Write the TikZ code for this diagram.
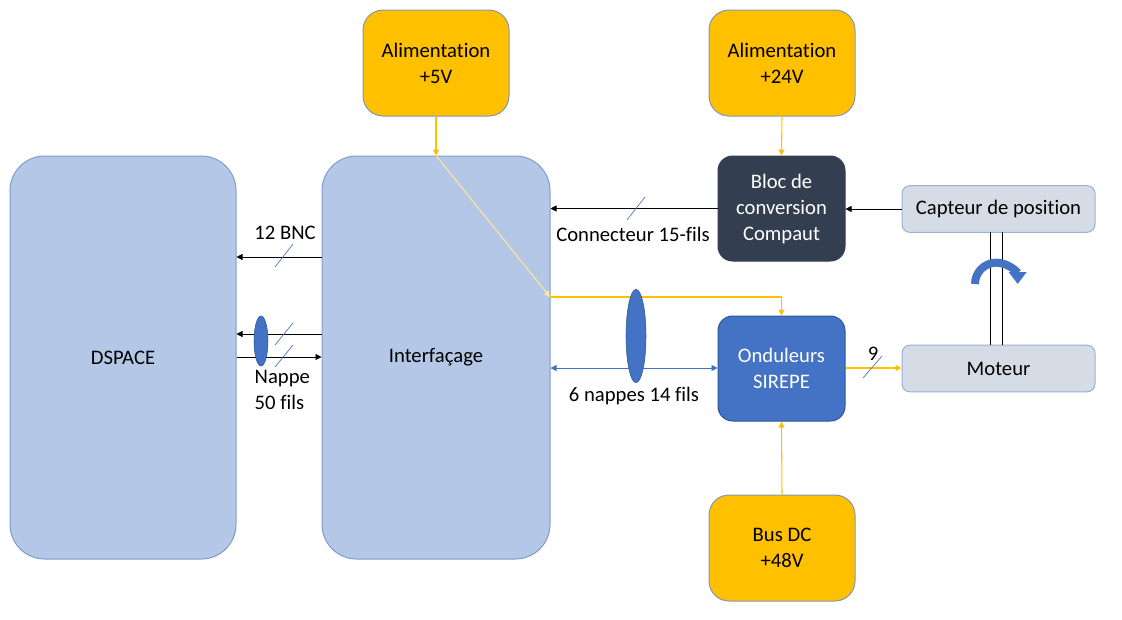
\documentclass[tikz,border=0pt]{standalone}
\usepackage{fontspec}
\setmainfont{Carlito}[Ligatures={NoCommon}]
\usepackage{tikz}
\usetikzlibrary{shapes.geometric, arrows.meta}

\definecolor{bleuclair}{HTML}{B4C7E7}
\definecolor{bordbleu}{HTML}{7F9CCF}
\definecolor{jaune}{HTML}{FFC000}
\definecolor{jaunepale}{HTML}{FFE699}
\definecolor{bordgris}{HTML}{8497B0}
\definecolor{ardoise}{HTML}{333F50}
\definecolor{bleu}{HTML}{4472C4}
\definecolor{bleufonce}{HTML}{2F5597}
\definecolor{grisbleu}{HTML}{D6DCE5}

\begin{document}
\begin{tikzpicture}[x=0.75pt, y=-0.75pt,
    font=\fontsize{15.5}{19.5}\selectfont,
    bloc/.style={draw=bordbleu, line width=0.75pt, align=center, inner sep=0pt},
    grand/.style={bloc, fill=bleuclair, minimum width=169.5pt, minimum height=302.25pt, rounded corners=26pt},
    alim/.style={bloc, fill=jaune, draw=bordgris, minimum width=109.5pt, minimum height=79.5pt, rounded corners=15pt},
    carre/.style={bloc, text=white, minimum width=95.25pt, minimum height=78.75pt, rounded corners=11pt},
    plat/.style={bloc, fill=grisbleu, draw=bordbleu!80, minimum width=144.75pt, minimum height=35pt, rounded corners=6pt},
    nappe/.style={ellipse, draw=bleufonce, fill=bleu, inner sep=0pt},
    fl/.style={-{Triangle[length=4.5pt,width=4.5pt]}, line width=0.5pt},
    fj/.style={fl, jaune, line width=0.8pt},
    barre/.style={draw=bleu, line width=0.5pt},
    ]
    \useasboundingbox (0,0) rectangle (1122,619);

    % Blocs
    \node[grand] (dsp) at (123,357.5) {DSPACE};
    \node[grand, minimum width=171pt] (intf) at (436,357.5) {Interfaçage};
    \node[alim] (alimA) at (436,63) {Alimentation\\+5V};
    \node[alim] (alimB) at (782,63) {Alimentation\\+24V};
    \node[alim] (bus) at (782,548) {Bus DC\\+48V};
    \node[carre, fill=ardoise, draw=ardoise] (conv) at (781.5,208.5) {Bloc de\\conversion\\Compaut};
    \node[carre, fill=bleu, draw=bleufonce] (ond) at (781.5,368.5) {Onduleurs\\SIREPE};
    \node[plat] (capt) at (998.5,209) {Capteur de position};
    \node[plat] (mot) at (998.5,368.5) {Moteur};

    % Alimentations
    \coordinate (pw) at (550,297);
    \draw[fj] (alimA.south) -- (intf.north);
    \draw[fj, jaunepale] (intf.north) -- (pw);
    \draw[fj] (pw) -- (pw -| ond.north) -- (ond.north);
    \draw[fj] (alimB.south) -- (conv.north);
    \draw[fj] (bus.north) -- (ond.south);

    % Signaux
    \draw[fl] (capt.west) -- (capt.west -| conv.east);
    \draw[fl] (conv.west) -- (conv.west -| intf.east);
    \draw[barre] (627,220) -- (645,197);
    \node (lcon) at (633,234) {Connecteur 15-fils};

    \draw[fl] (intf.west |- 0,257) -- (dsp.east |- 0,257);
    \draw[barre] (275,267) -- (293,244);
    \node (lbnc) at (285,233) {12 BNC};

    \draw[fl] (intf.west |- 0,334) -- (dsp.east |- 0,334);
    \draw[fl] (dsp.east |- 0,357) -- (intf.west |- 0,357);
    \node[nappe, minimum width=10.5pt, minimum height=37.5pt] (napA) at (261,341) {};
    \draw[barre] (275,345) -- (293,323);
    \draw[barre] (275,367) -- (293,345);
    \node[align=left, anchor=north west] (lnap) at (250,366) {Nappe\\50 fils};

    \draw[{Triangle[length=4.5pt,width=4.5pt]}-{Triangle[length=4.5pt,width=4.5pt]}, line width=0.5pt, bleu] (intf.east |- 0,368) -- (ond.west |- 0,368);
    \node[nappe, minimum width=15pt, minimum height=70pt] (napB) at (636,336) {};
    \node (lsix) at (634,396) {6 nappes 14 fils};

    \draw[fj] (ond.east |- 0,368) -- (mot.west |- 0,368);
    \draw[barre] (863,378) -- (882,356);
    \node (lneuf) at (873,354) {9};

    % Arbre et rotation
    \draw[line width=0.6pt] (990,232) -- (990,345);
    \draw[line width=0.6pt] (1002,232) -- (1002,345);
    \draw[bleu, line width=6pt, -{Triangle[length=9pt,width=13pt]}] (975,284) arc[start angle=180, end angle=0, radius=16pt];
\end{tikzpicture}
\end{document}
